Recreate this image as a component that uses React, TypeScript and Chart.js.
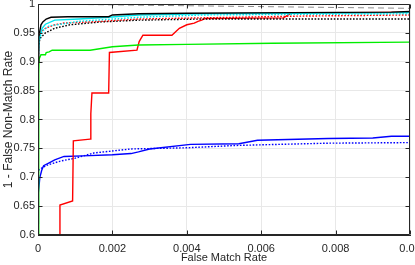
import React, { useEffect, useRef } from 'react';
import { Chart, registerables } from 'chart.js';

Chart.register(...registerables);

const xTicks = [0, 0.002, 0.004, 0.006, 0.008, 0.01];
const yTicks = [0.6, 0.65, 0.7, 0.75, 0.8, 0.85, 0.9, 0.95, 1];

const refX = [0, 0.01];
const refY = [1.0, 0.9925];

const blackSolidX = [0, 0.00002, 0.00008, 0.00013, 0.00022, 0.00035, 0.0008, 0.0019, 0.002, 0.0027, 0.004, 0.0068, 0.0095, 0.01];
const blackSolidY = [0.9, 0.943, 0.964, 0.969, 0.974, 0.977, 0.978, 0.978, 0.981, 0.983, 0.984, 0.985, 0.986, 0.987];

const cyanSolidX = [0, 0.00003, 0.00011, 0.0002, 0.00045, 0.0011, 0.0019, 0.0027, 0.0044, 0.007, 0.01];
const cyanSolidY = [0.9, 0.94, 0.958, 0.965, 0.972, 0.974, 0.977, 0.981, 0.983, 0.984, 0.985];

const cyanDotX = [0, 0.00003, 0.00011, 0.0003, 0.0011, 0.0027, 0.0044, 0.007, 0.01];
const cyanDotY = [0.9, 0.935, 0.953, 0.962, 0.97, 0.977, 0.981, 0.982, 0.983];

const redDotX = [0, 0.00002, 0.00005, 0.0002, 0.00045, 0.0007, 0.0017, 0.0027, 0.0044, 0.007, 0.01];
const redDotY = [0.9, 0.938, 0.95, 0.958, 0.964, 0.967, 0.97, 0.974, 0.976, 0.979, 0.981];

const blackDotX = [0, 0.00002, 0.00005, 0.0002, 0.00045, 0.00086, 0.0017, 0.0027, 0.0044, 0.01];
const blackDotY = [0.88, 0.929, 0.94, 0.95, 0.958, 0.964, 0.969, 0.972, 0.974, 0.974];

const redSolidX = [0.00059, 0.00059, 0.00093, 0.00095, 0.0014, 0.00142, 0.00145, 0.0019, 0.00192, 0.00266, 0.00272, 0.00282, 0.0036, 0.0037, 0.0038, 0.004, 0.0042, 0.0043, 0.0044, 0.0045, 0.0066, 0.0068, 0.01];
const redSolidY = [0.58, 0.652, 0.659, 0.763, 0.766, 0.81, 0.846, 0.846, 0.916, 0.92, 0.935, 0.946, 0.946, 0.952, 0.958, 0.964, 0.967, 0.97, 0.972, 0.975, 0.976, 0.984, 0.986];

const greenX = [0, 0.00002, 0.00003, 0.00008, 0.0002, 0.00022, 0.0003, 0.00038, 0.0014, 0.002, 0.0027, 0.004, 0.0063, 0.01];
const greenY = [0.5, 0.88, 0.905, 0.912, 0.912, 0.916, 0.917, 0.92, 0.92, 0.926, 0.929, 0.93, 0.932, 0.934];

const blueSolidX = [0, 0.00001, 0.00005, 0.0001, 0.00015, 0.0003, 0.00045, 0.0007, 0.0012, 0.002, 0.0025, 0.0027, 0.003, 0.0041, 0.0054, 0.0059, 0.0078, 0.009, 0.0095, 0.01];
const blueSolidY = [0.62, 0.673, 0.7, 0.712, 0.72, 0.725, 0.73, 0.736, 0.737, 0.739, 0.741, 0.744, 0.749, 0.757, 0.758, 0.764, 0.767, 0.768, 0.771, 0.771];

const blueDotX = [0, 0.00001, 0.0001, 0.00025, 0.0006, 0.001, 0.0015, 0.0025, 0.004, 0.0053, 0.0059, 0.0078, 0.01];
const blueDotY = [0.64, 0.712, 0.716, 0.721, 0.728, 0.733, 0.742, 0.749, 0.751, 0.755, 0.756, 0.759, 0.76];

const pts = (xs: number[], ys: number[]) => xs.map((x, i) => ({ x, y: ys[i] }));
const fmt = (v: number) => String(+Number(v).toFixed(4));

const FONT = { family: "'Liberation Sans', Arial, sans-serif", size: 11 };
const YTITLE_FONT = { family: "'Liberation Sans', Arial, sans-serif", size: 12 };
const TEXT = '#262626';

const boxPlugin = {
  id: 'boxPlugin',
  afterDatasetsDraw(chart: any) {
    const { ctx, chartArea: a, scales } = chart;
    ctx.save();
    ctx.strokeStyle = TEXT;
    ctx.lineWidth = 1;
    ctx.beginPath();
    const L = Math.round(a.left) + 0.5, R = Math.round(a.right) - 0.5;
    const T = Math.round(a.top) + 0.5, B = Math.round(a.bottom) - 0.5;
    ctx.rect(L, T, R - L, B - T);
    const tl = 4;
    xTicks.forEach((v) => {
      const x = Math.round(scales.x.getPixelForValue(v)) + 0.5;
      ctx.moveTo(x, B); ctx.lineTo(x, B - tl);
      ctx.moveTo(x, T); ctx.lineTo(x, T + tl);
    });
    yTicks.forEach((v) => {
      const y = Math.round(scales.y.getPixelForValue(v)) + 0.5;
      ctx.moveTo(L, y); ctx.lineTo(L + tl, y);
      ctx.moveTo(R, y); ctx.lineTo(R - tl, y);
    });
    ctx.stroke();
    ctx.restore();
  },
};

export default function App() {
  const ref = useRef<HTMLCanvasElement>(null);
  useEffect(() => {
    if (!ref.current) return;
    const line = (data: any, color: string, dotted: boolean, order: number, width = 1.4) => ({
      data,
      borderColor: color,
      backgroundColor: color,
      borderWidth: width,
      borderDash: dotted ? [1.6, 1.6] : [],
      pointRadius: 0,
      tension: 0,
      fill: false,
      order,
    });
    const chart = new Chart(ref.current, {
      type: 'line',
      data: {
        datasets: [
          line(pts(blackSolidX, blackSolidY), '#000000', false, 1),
          line(pts(cyanSolidX, cyanSolidY), '#00e5ee', false, 2),
          line(pts(cyanDotX, cyanDotY), '#00e5ee', true, 3),
          line(pts(redDotX, redDotY), '#ff0000', true, 4),
          line(pts(blackDotX, blackDotY), '#000000', true, 5),
          line(pts(greenX, greenY), '#00ee00', false, 6),
          line(pts(redSolidX, redSolidY), '#ff0000', false, 7),
          line(pts(blueSolidX, blueSolidY), '#0000ff', false, 8),
          line(pts(blueDotX, blueDotY), '#0000ff', true, 9),
          { ...line(pts(refX, refY), '#8c8c8c', false, 10, 1), borderDash: [6, 4] },
        ],
      },
      options: {
        animation: false,
        responsive: false,
        maintainAspectRatio: false,
        layout: { padding: { left: 0, right: 5, top: 4, bottom: 0 } },
        plugins: { legend: { display: false }, tooltip: { enabled: false } },
        scales: {
          x: {
            type: 'linear',
            min: 0,
            max: 0.01,
            afterBuildTicks: (s: any) => { s.ticks = xTicks.map((v) => ({ value: v })); },
            afterFit: (s: any) => { s.height = 30; s.paddingLeft = 0; s.paddingRight = 0; },
            ticks: { font: FONT, color: TEXT, padding: 7, maxRotation: 0, autoSkip: false, callback: (v: any) => fmt(v) },
            grid: { color: '#e8e8e8', drawTicks: false, lineWidth: 1 },
            border: { color: TEXT, display: true },
            title: { display: true, text: 'False Match Rate', font: FONT, color: TEXT, padding: { top: 0, bottom: 0 } },
          },
          y: {
            type: 'linear',
            min: 0.6,
            max: 1,
            afterBuildTicks: (s: any) => { s.ticks = yTicks.map((v) => ({ value: v })); },
            afterFit: (s: any) => { s.width = 38; s.paddingTop = 0; s.paddingBottom = 0; },
            ticks: { font: FONT, color: TEXT, padding: 3, autoSkip: false, callback: (v: any) => fmt(v) },
            grid: { color: '#e8e8e8', drawTicks: false, lineWidth: 1 },
            border: { color: TEXT, display: true },
            title: { display: true, text: '1 - False Non-Match Rate', font: YTITLE_FONT, color: TEXT, padding: { top: 1, bottom: 0 } },
          },
        },
      },
      plugins: [boxPlugin],
    } as any);
    return () => chart.destroy();
  }, []);
  return (
    <div style={{ position: 'absolute', left: 0, top: 0, width: 415, height: 265, background: '#fff' }}>
      <canvas ref={ref} width={415} height={265} style={{ width: 415, height: 265, display: 'block' }} />
    </div>
  );
}
